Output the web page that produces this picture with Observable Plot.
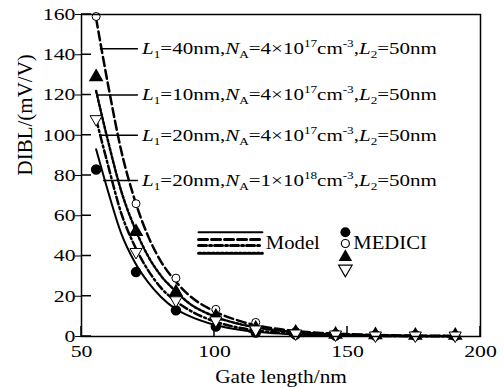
<!DOCTYPE html>
<html><head><meta charset="utf-8">
<script src="https://cdn.jsdelivr.net/npm/d3@7"></script>
<script src="https://cdn.jsdelivr.net/npm/@observablehq/plot@0.6"></script>
<style>body{margin:0;background:#fff}</style>
</head><body><div id="chart"></div>
<script>
// Model curves (gate length nm -> DIBL mV/V)
const curveX = [55.5, 60, 65, 70, 75, 80, 85, 90, 100, 110, 120, 130, 140, 150, 160, 170, 180, 190];
const modelL40 = [158, 125, 92, 68, 50, 37, 28, 21, 12.5, 7.5, 4.5, 2.8, 1.8, 1.2, 0.8, 0.5, 0.4, 0.3];
const modelL10 = [122, 97, 72, 54, 40, 30, 23, 17, 10, 6, 3.6, 2.2, 1.4, 0.9, 0.6, 0.4, 0.3, 0.2];
const modelL20a = [108, 85, 61, 45, 33, 24, 18, 13.5, 7.5, 4.2, 2.4, 1.4, 0.8, 0.5, 0.3, 0.2, 0.12, 0.08];
const modelL20b = [93, 72, 51, 37, 27, 19.5, 14, 10.5, 5.8, 3.2, 1.8, 1.0, 0.6, 0.35, 0.2, 0.12, 0.08, 0.05];
// MEDICI points
const simX = [55.5, 70.5, 85.5, 100.5, 115.5, 130.5, 145.5, 160.5, 175.5, 190.5];
const simL40 = [159, 66, 29, 13.5, 7, 2.5, 1.5, 1, 1, 0.8];
const simL10 = [129, 52, 22, 10, 4, 2, 1, 0.8, 0.5, 0.5];
const simL20a = [108, 42, 18, 8, 3.5, 1.5, 1, 0.5, 0.5, 0.5];
const simL20b = [83, 32, 13, 5, 2, 1, 0.5, 0.5, 0.5, 0.3];
// axis ticks
const xTicks = [50, 100, 150, 200];
const yTicks = [0, 20, 40, 60, 80, 100, 120, 140, 160];
// annotation labels
const labelL1 = ["40", "10", "20", "20"];
const labelNA = ["4", "4", "4", "1"];
const labelExp = ["17", "17", "17", "18"];
const labelY = [143, 120, 100, 77.5];
const leaderX1 = [57.1, 56, 57.1, 58.3];
const leaderX2 = 71.4;
const labelX = 72.9;
// legend
const legendLineX = [94, 118];
const legendLineY = [51.8, 48.2, 45.2, 41.4];
const legendSymX = 149.2;
const legendSymY = [51.8, 46.2, 39.5, 33.5];
const legendModelPos = [119.3, 46.5];
const legendMediciPos = [152.2, 46.5];

const styles = [
  {dash: null, w: 2},          // solid
  {dash: "9,4", w: 2.5},       // dashed
  {dash: "8,3,2,3", w: 2.5},   // dash-dot
  {dash: "2.5,2", w: 2.5}      // dotted
];
const mk = (xs, ys) => xs.map((x, i) => ({x, y: ys[i]}));
const lineL40 = mk(curveX, modelL40), lineL10 = mk(curveX, modelL10),
      lineL20a = mk(curveX, modelL20a), lineL20b = mk(curveX, modelL20b);
const legendLines = legendLineY.flatMap((y, i) => legendLineX.map(x => ({x, y, k: i})));

const serif = "'Liberation Serif', 'Times New Roman', serif";
const plot = Plot.plot({
  width: 504, height: 388,
  marginLeft: 81, marginRight: 24, marginTop: 14, marginBottom: 52,
  style: {fontFamily: serif, fontSize: "17px", color: "black", background: "white"},
  x: {domain: [50, 200], ticks: xTicks, tickSize: 0, tickPadding: 8, label: null},
  y: {domain: [0, 160], ticks: yTicks, tickSize: 6, tickPadding: 0, label: null},
  marks: [
    Plot.line(lineL20b, {x: "x", y: "y", stroke: "black", strokeWidth: styles[0].w, curve: "monotone-x"}),
    Plot.line(lineL40, {x: "x", y: "y", stroke: "black", strokeWidth: styles[1].w, strokeDasharray: styles[1].dash, curve: "monotone-x"}),
    Plot.line(lineL20a, {x: "x", y: "y", stroke: "black", strokeWidth: styles[2].w, strokeDasharray: styles[2].dash, curve: "monotone-x"}),
    Plot.line(lineL10, {x: "x", y: "y", stroke: "black", strokeWidth: styles[3].w, strokeDasharray: styles[3].dash, curve: "monotone-x"}),
    Plot.dot(mk(simX, simL20b), {x: "x", y: "y", r: 4.5, fill: "black", stroke: "black"}),
    Plot.dot(mk(simX, simL40), {x: "x", y: "y", r: 4, fill: "white", stroke: "black", strokeWidth: 1}),
    Plot.dot(mk(simX, simL10), {x: "x", y: "y", r: 4.5, symbol: "triangle", fill: "black", stroke: "black"}),
    Plot.dot(mk(simX, simL20a), {x: "x", y: "y", r: 4.5, symbol: "triangle", rotate: 180, fill: "white", stroke: "black", strokeWidth: 1}),
    Plot.ruleY(labelY.map((y, i) => ({y, x1: leaderX1[i], x2: leaderX2})), {y: "y", x1: "x1", x2: "x2", stroke: "black", strokeWidth: 1.5}),
    ...[0, 1, 2, 3].map(k => Plot.line(legendLines.filter(d => d.k === k), {x: "x", y: "y", stroke: "black", strokeWidth: k === 0 ? 2 : 3, strokeDasharray: styles[k].dash})),
    Plot.text([{x: legendModelPos[0], y: legendModelPos[1]}], {x: "x", y: "y", text: () => "Model", textAnchor: "start", fontSize: 18}),
    Plot.dot([{x: legendSymX, y: legendSymY[0]}], {x: "x", y: "y", r: 5, fill: "black"}),
    Plot.dot([{x: legendSymX, y: legendSymY[1]}], {x: "x", y: "y", r: 4, fill: "white", stroke: "black", strokeWidth: 1.2}),
    Plot.dot([{x: legendSymX, y: legendSymY[2]}], {x: "x", y: "y", r: 5, symbol: "triangle", fill: "black"}),
    Plot.dot([{x: legendSymX, y: legendSymY[3]}], {x: "x", y: "y", r: 5, symbol: "triangle", rotate: 180, fill: "white", stroke: "black", strokeWidth: 1.2}),
    Plot.text([{x: legendMediciPos[0], y: legendMediciPos[1]}], {x: "x", y: "y", text: () => "MEDICI", textAnchor: "start", fontSize: 18}),
    Plot.text(["Gate length/nm"], {frameAnchor: "bottom", lineAnchor: "middle", dy: 40, fontSize: 19}),
    Plot.text(["DIBL/(mV/V)"], {frameAnchor: "left", lineAnchor: "middle", rotate: -90, dx: -56, fontSize: 21}),
    Plot.frame({stroke: "black", strokeWidth: 1.5})
  ]
});
document.getElementById("chart").appendChild(plot);

const sx = plot.scale("x"), sy = plot.scale("y");
const svg = d3.select(plot);
// inward ticks
const g = svg.append("g").attr("stroke", "black").attr("stroke-width", 1.5);
yTicks.forEach(v => g.append("line").attr("x1", sx.apply(50)).attr("x2", sx.apply(50) + 10).attr("y1", sy.apply(v)).attr("y2", sy.apply(v)));
xTicks.forEach(v => g.append("line").attr("x1", sx.apply(v)).attr("x2", sx.apply(v)).attr("y1", sy.apply(0)).attr("y2", sy.apply(0) - 10));
// annotation texts with sub/superscripts
const annos = [];
labelY.forEach((v, i) => {
  const t = svg.append("text").attr("x", sx.apply(labelX)).attr("y", sy.apply(v)).attr("dy", "0.33em")
    .attr("text-anchor", "start").attr("font-size", 17.5).attr("fill", "black");
  const part = (s, o = {}) => {
    const ts = t.append("tspan").text(s);
    if (o.italic) ts.attr("font-style", "italic");
    if (o.sub) ts.attr("font-size", 11).attr("dy", 4);
    if (o.sup) ts.attr("font-size", 11).attr("dy", -7);
    if (o.back) ts.attr("dy", o.back);
    return ts;
  };
  part("L", {italic: true}); part("1", {sub: true});
  part("=" + labelL1[i] + "nm,", {back: -4});
  part("N", {italic: true}); part("A", {sub: true});
  part("=" + labelNA[i] + "×10", {back: -4});
  part(labelExp[i], {sup: true});
  part("cm", {back: 7}); part("-3", {sup: true});
  part(",", {back: 7});
  part("L", {italic: true}); part("2", {sub: true});
  part("=50nm", {back: -4});
  annos.push(t.node());
});
// force serif font everywhere
svg.selectAll("text").style("font-family", serif);
// horizontal stretch to mimic the reference's aspect
function stretch(el, s) {
  const b = el.getBBox();
  const anchor = getComputedStyle(el).textAnchor;
  const ax = anchor === "end" ? b.x + b.width : anchor === "middle" ? b.x + b.width / 2 : b.x;
  const t = el.getAttribute("transform") || "";
  el.setAttribute("transform", `${t} translate(${ax},0) scale(${s},1) translate(${-ax},0)`);
}
svg.selectAll("text").each(function () {
  const s = this.textContent.trim();
  if (annos.includes(this)) stretch(this, 1.2);
  else if (/^\d+$/.test(s)) stretch(this, 1.28);
  else if (s === "Gate length/nm") stretch(this, 1.12);
  else if (s === "Model" || s === "MEDICI") stretch(this, 1.15);
});
</script></body></html>
